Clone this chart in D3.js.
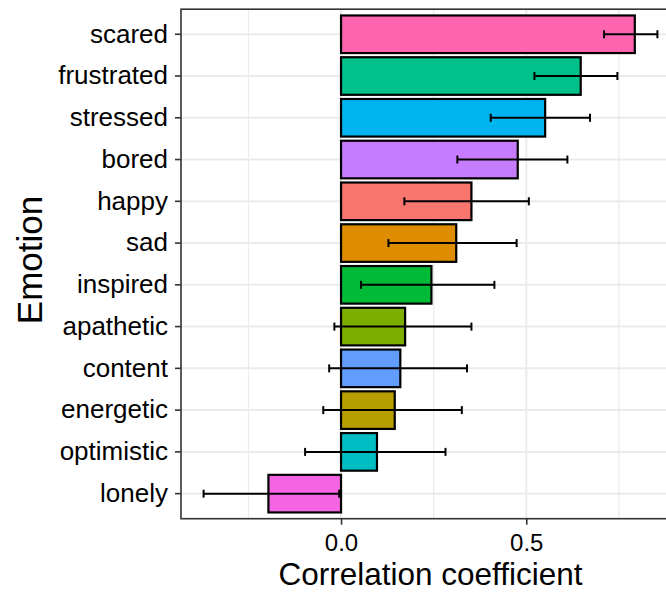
<!DOCTYPE html>
<html>
<head>
<meta charset="utf-8">
<script src="https://cdn.jsdelivr.net/npm/d3@7"></script>
<style>
    body { margin: 0; background: #fff; }
    text { font-family: "Liberation Sans", Arial, sans-serif; }
</style>
</head>
<body>
<div id="chart"></div>
<script>
// values, top row first
const emotions = ["scared", "frustrated", "stressed", "bored", "happy", "sad",
    "inspired", "apathetic", "content", "energetic", "optimistic", "lonely"];
const correlation = [0.793, 0.647, 0.551, 0.477, 0.352, 0.311,
    0.244, 0.173, 0.160, 0.145, 0.097, -0.196];
const ciLow = [0.710, 0.522, 0.404, 0.314, 0.171, 0.128,
    0.054, -0.018, -0.032, -0.048, -0.097, -0.371];
const ciHigh = [0.854, 0.746, 0.672, 0.611, 0.507, 0.474,
    0.414, 0.352, 0.340, 0.326, 0.282, -0.005];
const barColors = ["#FF64B0", "#00C08B", "#00B4F0", "#C77CFF", "#F8766D", "#DE8C00",
    "#00BA38", "#7CAE00", "#619CFF", "#B79F00", "#00BFC4", "#F564E3"];
const xTicks = [0, 0.5];
const xMinor = [-0.25, 0.25, 0.75];

const width = 666, height = 592;
const panel = { left: 181, right: 680, top: 9.2, bottom: 518.7 };

const svg = d3.select("#chart").append("svg")
    .attr("width", width)
    .attr("height", height);

const x = d3.scaleLinear()
    .domain([-0.432, 0.915])
    .range([panel.left, panel.right]);

const y = d3.scaleBand()
    .domain(emotions)
    .range([panel.top, panel.bottom])
    .paddingInner(0.1)
    .paddingOuter(0.15);

const rows = emotions.map((e, i) => ({
    emotion: e, r: correlation[i], lo: ciLow[i], hi: ciHigh[i], color: barColors[i]
}));

// grid
const grid = svg.append("g");
grid.selectAll(".minor").data(xMinor).join("line")
    .attr("x1", d => x(d)).attr("x2", d => x(d))
    .attr("y1", panel.top).attr("y2", panel.bottom)
    .attr("stroke", "#ebebeb").attr("stroke-width", 1.2);
grid.selectAll(".major").data(xTicks).join("line")
    .attr("x1", d => x(d)).attr("x2", d => x(d))
    .attr("y1", panel.top).attr("y2", panel.bottom)
    .attr("stroke", "#ebebeb").attr("stroke-width", 2);
grid.selectAll(".hmajor").data(emotions).join("line")
    .attr("x1", panel.left).attr("x2", panel.right)
    .attr("y1", d => y(d) + y.bandwidth() / 2)
    .attr("y2", d => y(d) + y.bandwidth() / 2)
    .attr("stroke", "#ebebeb").attr("stroke-width", 2);

// bars
svg.append("g").selectAll("rect").data(rows).join("rect")
    .attr("x", d => x(Math.min(0, d.r)))
    .attr("y", d => y(d.emotion))
    .attr("width", d => Math.abs(x(d.r) - x(0)))
    .attr("height", y.bandwidth())
    .attr("fill", d => d.color)
    .attr("stroke", "#000")
    .attr("stroke-width", 2.2);

// error bars
const cap = 4;
const err = svg.append("g").attr("stroke", "#000").attr("stroke-width", 2);
rows.forEach(d => {
    const cy = y(d.emotion) + y.bandwidth() / 2;
    err.append("line")
        .attr("x1", x(d.lo)).attr("x2", x(d.hi))
        .attr("y1", cy).attr("y2", cy);
    [d.lo, d.hi].forEach(v => {
        err.append("line")
            .attr("x1", x(v)).attr("x2", x(v))
            .attr("y1", cy - cap).attr("y2", cy + cap);
    });
});

// panel border
svg.append("rect")
    .attr("x", panel.left).attr("y", panel.top)
    .attr("width", panel.right - panel.left)
    .attr("height", panel.bottom - panel.top)
    .attr("fill", "none")
    .attr("stroke", "#333")
    .attr("stroke-width", 1.6);

// axes
const xAxis = svg.append("g")
    .attr("transform", `translate(0,${panel.bottom})`)
    .call(d3.axisBottom(x).tickValues(xTicks).tickFormat(d3.format(".1f")).tickSize(6));
const yAxis = svg.append("g")
    .attr("transform", `translate(${panel.left},0)`)
    .call(d3.axisLeft(y).tickSize(6).tickPadding(7));

[xAxis, yAxis].forEach(a => {
    a.select(".domain").remove();
    a.selectAll(".tick line").attr("stroke", "#333").attr("stroke-width", 1.6);
    a.selectAll(".tick text").attr("fill", "#000");
});
yAxis.selectAll(".tick text").style("font-size", "26px");
xAxis.selectAll(".tick text")
    .style("font-size", "24px")
    .attr("y", 32).attr("dy", 0);

svg.append("text")
    .attr("x", (panel.left + panel.right) / 2)
    .attr("y", 584.5)
    .attr("text-anchor", "middle")
    .style("font-size", "31.5px")
    .text("Correlation coefficient");

svg.append("text")
    .attr("transform", `translate(42,${(panel.top + panel.bottom) / 2 - 4}) rotate(-90)`)
    .attr("text-anchor", "middle")
    .style("font-size", "35px")
    .text("Emotion");
</script>
</body>
</html>
